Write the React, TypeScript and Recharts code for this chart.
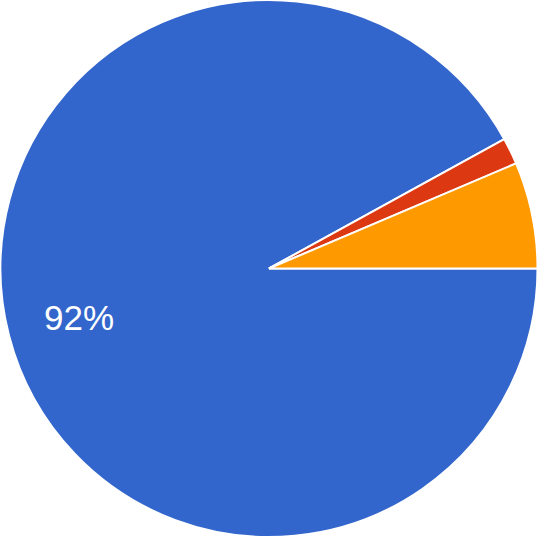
import React from "react";
import { PieChart, Pie, Cell } from "recharts";

const categories = ["Option A", "Option B", "Option C"];
const values = [92.0, 1.6, 6.4];
const colors = ["#3366cc", "#dc3912", "#ff9900"];

const data = categories.map((name, i) => ({ name, value: values[i] }));
const total = values.reduce((a, b) => a + b, 0);
const RAD = Math.PI / 180;

const renderLabel = (props: any) => {
  const { cx, cy, midAngle, outerRadius, value, index } = props;
  const pct = value / total;
  if (pct < 0.1) return null;
  const r = outerRadius * 0.73;
  const x = cx + r * Math.cos(-midAngle * RAD);
  const y = cy + r * Math.sin(-midAngle * RAD);
  return (
    <text
      key={`l-${index}`}
      x={x}
      y={y}
      fill="#ffffff"
      textAnchor="middle"
      dominantBaseline="central"
      fontFamily="'Liberation Sans', Arial, sans-serif"
      fontSize={35}
    >
      {`${Math.round(pct * 100)}%`}
    </text>
  );
};

export default function App() {
  return (
    <div style={{ position: "absolute", left: 0, top: 0, width: 538, height: 538, background: "#fff" }}>
      <PieChart width={538} height={538} margin={{ top: 0, right: 0, bottom: 0, left: 0 }}>
        <Pie
          data={data}
          dataKey="value"
          nameKey="name"
          cx={269}
          cy={268.5}
          outerRadius={268.5}
          startAngle={0}
          endAngle={-360}
          stroke="#ffffff"
          strokeWidth={2}
          label={renderLabel}
          labelLine={false}
          isAnimationActive={false}
        >
          {data.map((d, i) => (
            <Cell key={d.name} fill={colors[i]} />
          ))}
        </Pie>
      </PieChart>
    </div>
  );
}
